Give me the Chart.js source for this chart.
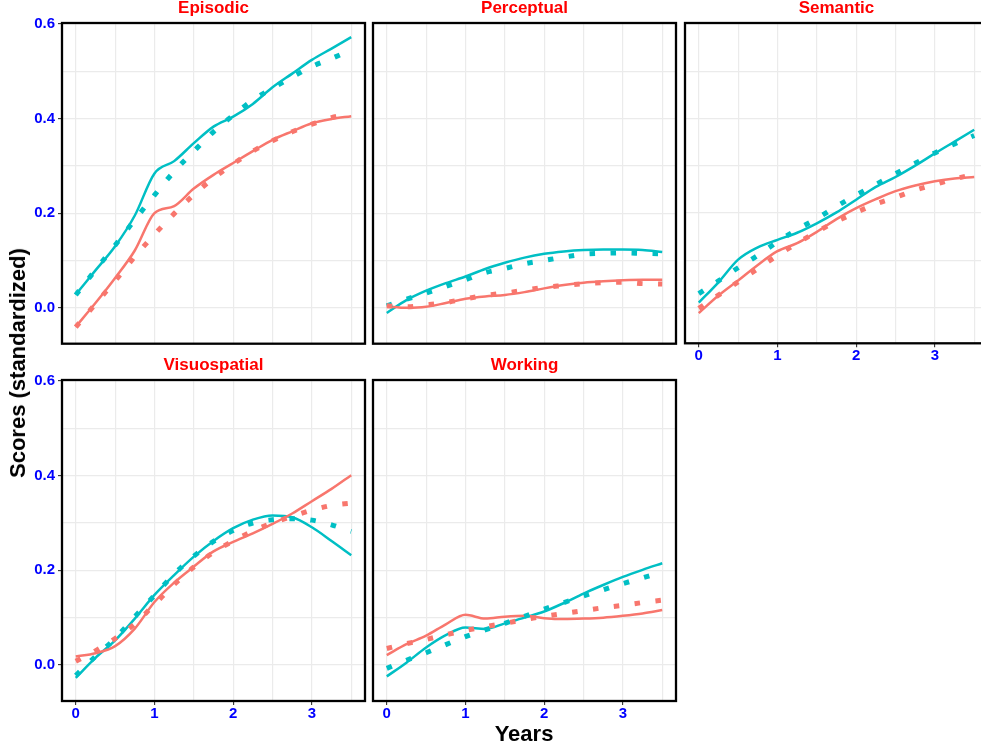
<!DOCTYPE html>
<html>
<head>
<meta charset="utf-8">
<script src="https://cdn.jsdelivr.net/npm/chart.js@4.4.1/dist/chart.umd.min.js"></script>
<style>
  html, body { margin: 0; padding: 0; width: 981px; height: 751px; overflow: hidden; background: #fff; }
  body { position: relative; font-family: "Liberation Sans", Arial, sans-serif; }
  .panel { position: absolute; }
  .axis-title { position: absolute; font-weight: bold; font-size: 22px; color: #000; white-space: nowrap; }
</style>
</head>
<body>
<div class="panel" id="p-episodic" style="left:0px;top:0px;width:368px;height:347px"><canvas></canvas></div>
<div class="panel" id="p-perceptual" style="left:370px;top:0px;width:309px;height:347px"><canvas></canvas></div>
<div class="panel" id="p-semantic" style="left:682px;top:0px;width:309px;height:366px"><canvas></canvas></div>
<div class="panel" id="p-visuospatial" style="left:0px;top:357px;width:368px;height:367px"><canvas></canvas></div>
<div class="panel" id="p-working" style="left:370px;top:357px;width:309px;height:367px"><canvas></canvas></div>
<div class="axis-title" style="left:18px;top:363px;transform:translate(-50%,-50%) rotate(-90deg)">Scores (standardized)</div>
<div class="axis-title" style="left:524px;top:734px;transform:translate(-50%,-50%)">Years</div>

<script>
// x positions (years) shared by all series
const years = [0, 0.25, 0.5, 0.75, 1, 1.25, 1.5, 1.75, 2, 2.25, 2.5, 2.75, 3, 3.25, 3.5];
const xTickLabels = [0, 1, 2, 3];
const yTickLabels = [0, 0.2, 0.4, 0.6];

// Episodic
const episodicRedSolid = [-0.040, 0.010, 0.063, 0.121, 0.200, 0.215, 0.252, 0.281, 0.306, 0.331, 0.355, 0.373, 0.390, 0.399, 0.405];
const episodicRedDotted = [-0.041, 0.008, 0.057, 0.108, 0.155, 0.199, 0.239, 0.274, 0.304, 0.331, 0.353, 0.372, 0.388, 0.402, 0.410];
const episodicCyanSolid = [0.028, 0.079, 0.130, 0.195, 0.284, 0.310, 0.348, 0.383, 0.404, 0.431, 0.466, 0.495, 0.524, 0.548, 0.572];
const episodicCyanDotted = [0.027, 0.080, 0.132, 0.186, 0.238, 0.288, 0.331, 0.372, 0.407, 0.439, 0.464, 0.488, 0.510, 0.527, 0.545];

// Perceptual
const perceptualRedSolid = [0.003, 0.000, 0.002, 0.010, 0.019, 0.024, 0.027, 0.033, 0.041, 0.048, 0.053, 0.056, 0.058, 0.059, 0.059];
const perceptualRedDotted = [0.004, 0.002, 0.006, 0.011, 0.019, 0.026, 0.031, 0.037, 0.043, 0.047, 0.051, 0.053, 0.054, 0.051, 0.050];
const perceptualCyanSolid = [-0.011, 0.016, 0.036, 0.052, 0.066, 0.082, 0.095, 0.106, 0.114, 0.119, 0.122, 0.123, 0.123, 0.122, 0.118];
const perceptualCyanDotted = [0.004, 0.018, 0.031, 0.045, 0.059, 0.074, 0.083, 0.093, 0.100, 0.107, 0.113, 0.115, 0.116, 0.115, 0.114];

// Semantic
const semanticRedSolid = [-0.012, 0.025, 0.057, 0.090, 0.119, 0.136, 0.160, 0.187, 0.210, 0.229, 0.246, 0.258, 0.267, 0.273, 0.276];
const semanticRedDotted = [-0.002, 0.026, 0.054, 0.082, 0.110, 0.136, 0.160, 0.182, 0.201, 0.219, 0.233, 0.248, 0.260, 0.272, 0.282];
const semanticCyanSolid = [0.010, 0.053, 0.101, 0.127, 0.143, 0.158, 0.178, 0.201, 0.228, 0.255, 0.276, 0.300, 0.326, 0.351, 0.376];
const semanticCyanDotted = [0.029, 0.056, 0.084, 0.110, 0.139, 0.165, 0.188, 0.214, 0.238, 0.260, 0.283, 0.305, 0.327, 0.346, 0.364];

// Visuospatial
const visuoRedSolid = [0.018, 0.025, 0.040, 0.077, 0.133, 0.174, 0.208, 0.240, 0.260, 0.278, 0.298, 0.320, 0.346, 0.372, 0.401];
const visuoRedDotted = [0.008, 0.030, 0.056, 0.087, 0.128, 0.170, 0.207, 0.238, 0.262, 0.283, 0.300, 0.314, 0.327, 0.337, 0.342];
const visuoCyanSolid = [-0.027, 0.015, 0.052, 0.098, 0.148, 0.190, 0.229, 0.262, 0.289, 0.307, 0.316, 0.312, 0.291, 0.262, 0.232];
const visuoCyanDotted = [-0.022, 0.018, 0.056, 0.102, 0.147, 0.192, 0.230, 0.261, 0.284, 0.300, 0.307, 0.309, 0.306, 0.296, 0.282];

// Working
const workingRedSolid = [0.021, 0.044, 0.062, 0.086, 0.106, 0.098, 0.102, 0.104, 0.099, 0.097, 0.098, 0.100, 0.104, 0.109, 0.116];
const workingRedDotted = [0.035, 0.045, 0.054, 0.064, 0.073, 0.081, 0.088, 0.096, 0.103, 0.109, 0.115, 0.121, 0.126, 0.132, 0.137];
const workingCyanSolid = [-0.024, 0.005, 0.037, 0.063, 0.079, 0.076, 0.088, 0.100, 0.113, 0.131, 0.151, 0.169, 0.186, 0.201, 0.215];
const workingCyanDotted = [-0.007, 0.010, 0.026, 0.043, 0.060, 0.074, 0.088, 0.103, 0.118, 0.132, 0.146, 0.159, 0.172, 0.184, 0.196];

const RED = '#F8766D';
const CYAN = '#00BFC4';
const FONT = '"Liberation Sans", Arial, sans-serif';
const X_MIN = -0.175, X_MAX = 3.675;
const Y_MIN = -0.076, Y_MAX = 0.602;

function lineSet(values, color, dotted) {
  return {
    data: years.map((x, i) => ({ x: x, y: values[i] })),
    borderColor: color,
    borderWidth: dotted ? 5 : 2.5,
    borderDash: dotted ? [5.5, 15.5] : [],
    borderCapStyle: 'butt',
    pointRadius: 0,
    cubicInterpolationMode: 'monotone',
    fill: false
  };
}

const isOn = (list, v) => list.some(t => Math.abs(t - v) < 1e-9);

// black frame around each panel, like ggplot's panel border
const panelBorder = {
  id: 'panelBorder',
  afterDraw(chart) {
    const a = chart.chartArea, ctx = chart.ctx;
    ctx.save();
    ctx.strokeStyle = '#000';
    ctx.lineWidth = 2.3;
    ctx.strokeRect(a.left, a.top, a.right - a.left, a.bottom - a.top);
    ctx.restore();
  }
};

const panels = [
  { id: 'p-episodic', title: 'Episodic', showX: false, showY: true, xH: 0, padB: 3.3,
    series: [episodicRedDotted, episodicCyanDotted, episodicRedSolid, episodicCyanSolid] },
  { id: 'p-perceptual', title: 'Perceptual', showX: false, showY: false, xH: 0, padB: 3.3,
    series: [perceptualRedDotted, perceptualCyanDotted, perceptualRedSolid, perceptualCyanSolid] },
  { id: 'p-semantic', title: 'Semantic', showX: true, showY: false, xH: 22.7, padB: 0,
    series: [semanticRedDotted, semanticCyanDotted, semanticRedSolid, semanticCyanSolid] },
  { id: 'p-visuospatial', title: 'Visuospatial', showX: true, showY: true, xH: 23, padB: 0,
    series: [visuoRedDotted, visuoCyanDotted, visuoRedSolid, visuoCyanSolid] },
  { id: 'p-working', title: 'Working', showX: true, showY: false, xH: 23, padB: 0,
    series: [workingRedDotted, workingCyanDotted, workingRedSolid, workingCyanSolid] }
];

panels.forEach(p => {
  const canvas = document.querySelector('#' + p.id + ' canvas');
  new Chart(canvas, {
    type: 'line',
    data: {
      datasets: [
        lineSet(p.series[0], RED, true),
        lineSet(p.series[1], CYAN, true),
        lineSet(p.series[2], RED, false),
        lineSet(p.series[3], CYAN, false)
      ]
    },
    options: {
      responsive: true,
      maintainAspectRatio: false,
      animation: false,
      events: [],
      layout: { padding: { left: p.showY ? 0 : 3, right: 3, top: 0, bottom: p.padB } },
      plugins: {
        legend: { display: false },
        tooltip: { enabled: false },
        title: {
          display: true,
          text: p.title,
          color: '#FF0000',
          fullSize: false,
          font: { family: FONT, size: 17, weight: 'bold', lineHeight: 1 },
          padding: { top: 0, bottom: 6 }
        }
      },
      scales: {
        x: {
          type: 'linear',
          min: X_MIN,
          max: X_MAX,
          afterFit: s => { s.height = p.xH; s.paddingLeft = 0; s.paddingRight = 0; },
          border: { display: false },
          grid: {
            color: '#EBEBEB',
            lineWidth: 1.2,
            drawTicks: p.showX,
            tickLength: 4,
            tickWidth: 1.1,
            tickColor: c => isOn(xTickLabels, c.tick.value) ? '#333333' : 'rgba(0,0,0,0)'
          },
          ticks: {
            display: p.showX,
            stepSize: 0.5,
            includeBounds: false,
            autoSkip: false,
            maxRotation: 0,
            padding: 0,
            color: '#0000FF',
            font: { family: FONT, size: 15, weight: 'bold' },
            callback: v => isOn(xTickLabels, v) ? String(Math.round(v)) : ''
          }
        },
        y: {
          type: 'linear',
          min: Y_MIN,
          max: Y_MAX,
          afterFit: s => { s.width = p.showY ? 62 : 0; s.paddingTop = 0; s.paddingBottom = 0; },
          border: { display: false },
          grid: {
            color: '#EBEBEB',
            lineWidth: 1.2,
            drawTicks: p.showY,
            tickLength: 4,
            tickWidth: 1.1,
            tickColor: c => isOn(yTickLabels, c.tick.value) ? '#333333' : 'rgba(0,0,0,0)'
          },
          ticks: {
            display: p.showY,
            stepSize: 0.1,
            includeBounds: false,
            padding: 3,
            color: '#0000FF',
            font: { family: FONT, size: 15, weight: 'bold' },
            callback: v => isOn(yTickLabels, v) ? v.toFixed(1) : ''
          }
        }
      }
    },
    plugins: [panelBorder]
  });
});
</script>
</body>
</html>
